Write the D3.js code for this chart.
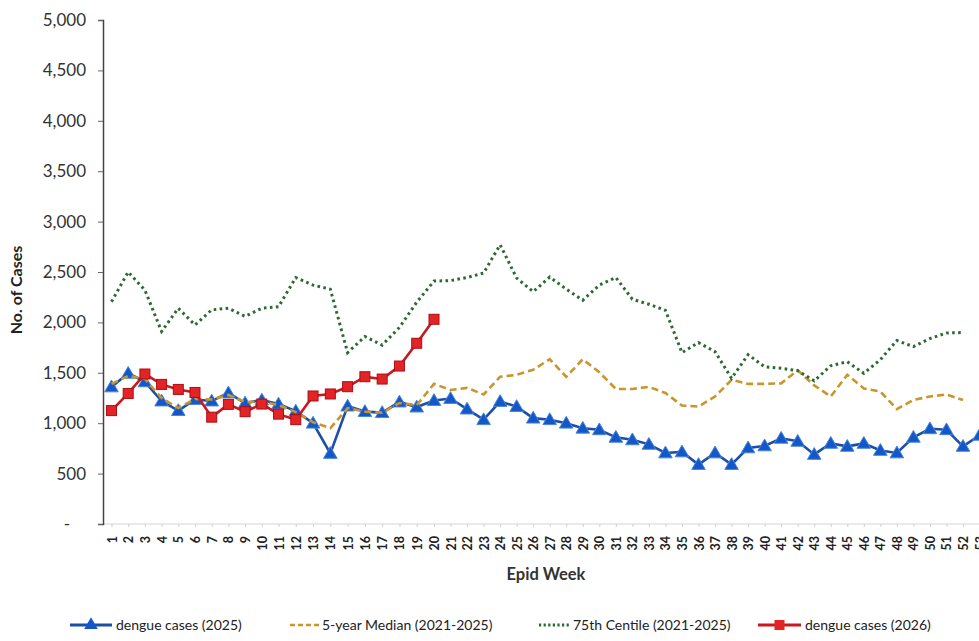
<!DOCTYPE html>
<html><head><meta charset="utf-8">
<script src="https://cdn.jsdelivr.net/npm/d3@7"></script>
<style>
body{margin:0;background:#fff}
svg{display:block}
text{font-family:Lato,"Open Sans",sans-serif}
</style>
</head><body>
<svg id="chart" width="979" height="641"></svg>
<script>
const weeks = [1,2,3,4,5,6,7,8,9,10,11,12,13,14,15,16,17,18,19,20,21,22,23,24,25,26,27,28,29,30,31,32,33,34,35,36,37,38,39,40,41,42,43,44,45,46,47,48,49,50,51,52,53];
const yTicks = [0,500,1000,1500,2000,2500,3000,3500,4000,4500,5000];
const cases2025 = [1360,1495,1410,1220,1125,1235,1220,1300,1200,1230,1190,1120,1000,700,1170,1115,1105,1210,1160,1225,1245,1140,1035,1215,1165,1050,1035,1000,950,935,860,835,790,705,715,590,705,590,755,775,850,820,690,800,770,800,730,705,860,945,935,770,880];
const median5yr = [1390,1470,1440,1250,1150,1240,1235,1280,1210,1215,1180,1110,1010,950,1150,1115,1105,1200,1180,1390,1330,1350,1285,1460,1480,1530,1635,1460,1635,1505,1340,1340,1360,1300,1175,1165,1265,1430,1390,1390,1395,1525,1375,1265,1480,1345,1315,1140,1230,1265,1285,1230];
const centile75 = [2205,2500,2320,1910,2140,1975,2125,2140,2060,2140,2155,2445,2370,2330,1700,1860,1775,1950,2200,2410,2415,2445,2490,2770,2440,2305,2450,2330,2220,2370,2445,2230,2180,2120,1700,1800,1710,1445,1680,1560,1545,1520,1420,1570,1610,1495,1630,1820,1760,1840,1895,1900];
const cases2026 = [1125,1295,1488,1385,1335,1305,1060,1187,1114,1190,1090,1035,1270,1290,1362,1461,1438,1567,1793,2031];
const seriesNames = ["dengue cases (2025)","5-year Median (2021-2025)","75th Centile (2021-2025)","dengue cases (2026)"];
const yTitle = "No. of Cases";
const xTitle = "Epid Week";

const svg = d3.select("#chart");
const x = d3.scaleLinear().domain([1,11,20,52]).range([111.5,278.5,434,963]);
const y = d3.scaleLinear().domain([0,5000]).range([524,20]);

const C = {
  blue:"#1b4fa8", blueFill:"#1457c8", blueEdge:"#4a86d8",
  gold:"#c9952c", green:"#2b6a33", red:"#c8191e", redFill:"#e42327", redEdge:"#a81014"
};

// x axis baseline (faint)
svg.append("line").attr("x1",103).attr("x2",979).attr("y1",y(0)).attr("y2",y(0))
  .attr("stroke","#d6d6d6").attr("stroke-width",1.2);

const gx = svg.append("g").attr("transform",`translate(0,${y(0)})`)
  .call(d3.axisBottom(x).tickValues(weeks).tickSize(3).tickFormat(d3.format("d")));
gx.select(".domain").remove();
gx.selectAll(".tick line").attr("stroke","#d0d0d0");
gx.selectAll(".tick text")
  .attr("transform","rotate(-90)")
  .attr("x",-12).attr("y",0).attr("dy","0.36em")
  .attr("text-anchor","end")
  .style("font-size","12.5px").style("font-weight","bold").attr("fill","#222");

// y axis
const gy = svg.append("g").attr("transform","translate(103,0)")
  .call(d3.axisLeft(y).tickValues(yTicks).tickSize(5).tickPadding(12)
    .tickFormat(d => d === 0 ? "-" : d3.format(",")(d)));
gy.select(".domain").attr("stroke","#444").attr("stroke-width",1.5);
gy.selectAll(".tick line").attr("stroke","#666");
gy.selectAll(".tick text").style("font-size","17px").attr("fill","#333");
gy.selectAll(".tick text").filter(d => d === 0).attr("dx",-16);

// titles
svg.append("text").attr("transform",`translate(22,${(y(0)+y(5000))/2 + 18}) rotate(-90)`)
  .attr("text-anchor","middle").style("font-size","16px").style("font-weight","bold")
  .attr("fill","#222").text(yTitle);
svg.append("text").attr("x",546).attr("y",580).attr("text-anchor","middle")
  .style("font-size","16.5px").style("font-weight","bold").attr("fill","#333").text(xTitle);

const line = d3.line().x((d,i) => x(weeks[i])).y(d => y(d));

// series in Excel order
svg.append("path").datum(cases2025).attr("d",line).attr("fill","none")
  .attr("stroke",C.blue).attr("stroke-width",2.6);
svg.append("g").selectAll("path").data(cases2025).join("path")
  .attr("transform",(d,i)=>`translate(${x(weeks[i])},${y(d)+1})`)
  .attr("d",d3.symbol(d3.symbolTriangle,80))
  .attr("fill",C.blueFill).attr("stroke",C.blueEdge).attr("stroke-width",1);

svg.append("path").datum(median5yr).attr("d",line).attr("fill","none")
  .attr("stroke",C.gold).attr("stroke-width",2.6).attr("stroke-dasharray","7,4");

svg.append("path").datum(centile75).attr("d",line).attr("fill","none")
  .attr("stroke",C.green).attr("stroke-width",3).attr("stroke-dasharray","2.6,3.4");

svg.append("path").datum(cases2026).attr("d",line).attr("fill","none")
  .attr("stroke",C.red).attr("stroke-width",2.6);
svg.append("g").selectAll("rect").data(cases2026).join("rect")
  .attr("x",(d,i)=>x(weeks[i])-5).attr("y",d=>y(d)-5)
  .attr("width",10).attr("height",10)
  .attr("fill",C.redFill).attr("stroke",C.redEdge).attr("stroke-width",1);

// legend
const ly = 625;
const lg = svg.append("g").style("font-size","14px");
// 1
lg.append("line").attr("x1",70).attr("x2",112).attr("y1",ly).attr("y2",ly).attr("stroke",C.blue).attr("stroke-width",3);
lg.append("path").attr("transform",`translate(91,${ly})`).attr("d",d3.symbol(d3.symbolTriangle,80)).attr("fill",C.blueFill);
lg.append("text").attr("x",116).attr("y",ly).attr("dy","0.35em").attr("fill","#222").text(seriesNames[0]);
// 2
lg.append("line").attr("x1",290).attr("x2",319).attr("y1",ly).attr("y2",ly).attr("stroke",C.gold).attr("stroke-width",2.6).attr("stroke-dasharray","5,3");
lg.append("text").attr("x",322).attr("y",ly).attr("dy","0.35em").attr("fill","#222").text(seriesNames[1]);
// 3
lg.append("line").attr("x1",539).attr("x2",570).attr("y1",ly).attr("y2",ly).attr("stroke",C.green).attr("stroke-width",3).attr("stroke-dasharray","2.2,2.4");
lg.append("text").attr("x",573).attr("y",ly).attr("dy","0.35em").attr("fill","#222").text(seriesNames[2]);
// 4
lg.append("line").attr("x1",758).attr("x2",801).attr("y1",ly).attr("y2",ly).attr("stroke",C.red).attr("stroke-width",3);
lg.append("rect").attr("x",774.5).attr("y",ly-5).attr("width",10).attr("height",10).attr("fill",C.redFill);
lg.append("text").attr("x",805).attr("y",ly).attr("dy","0.35em").attr("fill","#222").text(seriesNames[3]);
</script>
</body></html>
